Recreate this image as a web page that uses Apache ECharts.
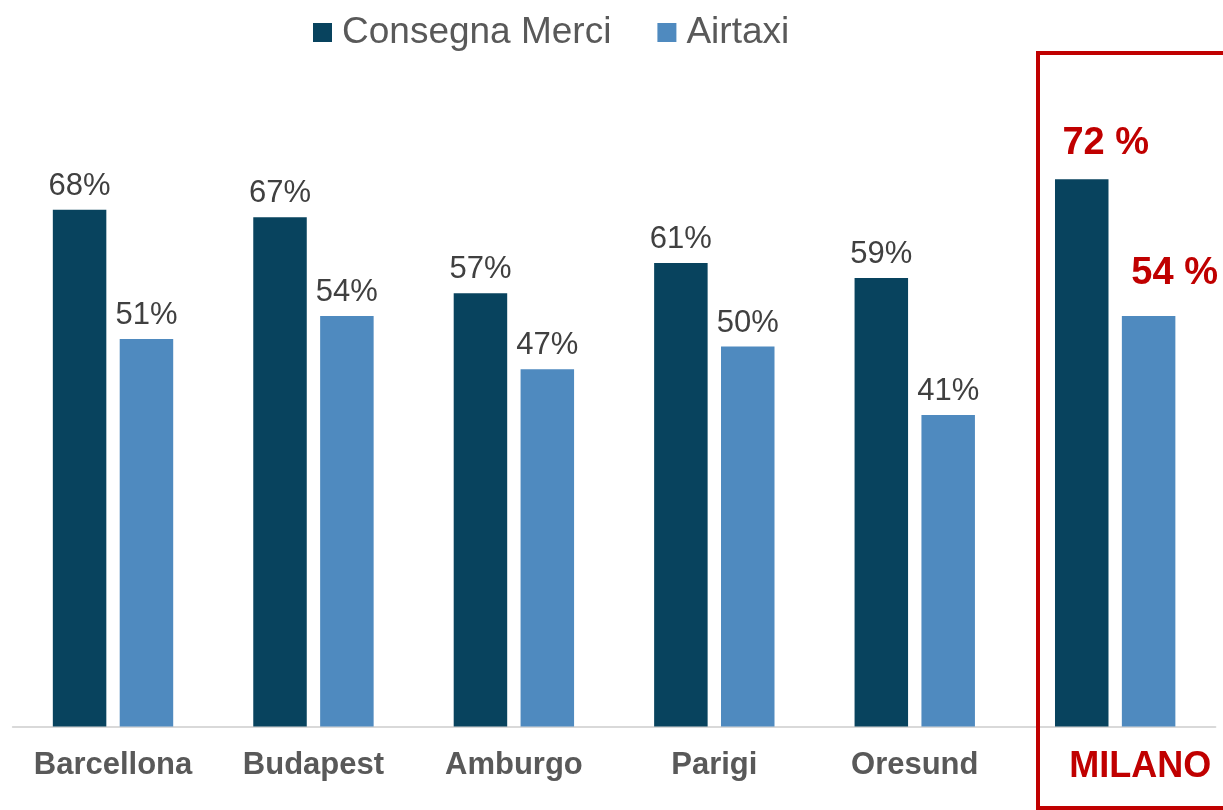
<!DOCTYPE html>
<html>
<head>
<meta charset="utf-8">
<script src="https://cdn.jsdelivr.net/npm/echarts@6/dist/echarts.min.js"></script>
<style>
html,body{margin:0;padding:0;background:#fff;}
#chart{width:1223px;height:810px;}
</style>
</head>
<body>
<div id="chart"></div>
<script>
const categories = ['Barcellona', 'Budapest', 'Amburgo', 'Parigi', 'Oresund', 'MILANO'];
const consegnaMerci = [68, 67, 57, 61, 59, 72];
const airtaxi = [51, 54, 47, 50, 41, 54];
const seriesNames = ['Consegna Merci', 'Airtaxi'];
const highlightCategory = 'MILANO';

const FONT = '"Liberation Sans", Arial, sans-serif';
const RED = '#c00000';

function buildData(values, offset) {
  return values.map((v, i) => {
    if (categories[i] === highlightCategory) {
      return {
        value: v,
        label: {
          formatter: '{c} %',
          color: RED,
          fontWeight: 'bold',
          fontSize: 38,
          offset: offset
        }
      };
    }
    return v;
  });
}

const chart = echarts.init(document.getElementById('chart'), null, {renderer: 'canvas'});
chart.setOption({
  backgroundColor: '#ffffff',
  animation: false,
  textStyle: {fontFamily: FONT},
  legend: {
    data: seriesNames,
    left: 308,
    top: 9,
    itemWidth: 19,
    itemHeight: 19,
    itemGap: 46,
    icon: 'rect',
    textStyle: {fontSize: 37, color: '#595959', fontFamily: FONT, padding: [0, 0, 0, 5]}
  },
  grid: {left: 12.8, right: 7.6, top: 118.5, bottom: 83.5, containLabel: false},
  xAxis: {
    type: 'category',
    data: categories.map(c => c === highlightCategory
      ? {value: c, textStyle: {color: RED, fontSize: 36, padding: [0, 0, 0, 50]}}
      : c),
    axisLine: {lineStyle: {color: '#d9d9d9', width: 2}},
    axisTick: {show: false},
    axisLabel: {fontSize: 31, fontWeight: 'bold', color: '#595959', margin: 23, fontFamily: FONT, interval: 0}
  },
  yAxis: {
    type: 'value',
    min: 0,
    max: 80,
    show: false,
    splitLine: {show: false}
  },
  series: [
    {
      name: seriesNames[0],
      type: 'bar',
      data: buildData(consegnaMerci, [24, -9]),
      barWidth: 53.5,
      barGap: '25%',
      itemStyle: {color: '#08435e'},
      label: {show: true, position: 'top', distance: 8, formatter: '{c}%', fontSize: 31, color: '#404040', fontFamily: FONT}
    },
    {
      name: seriesNames[1],
      type: 'bar',
      data: buildData(airtaxi, [26, -16]),
      barWidth: 53.5,
      itemStyle: {color: '#4f8abf'},
      label: {show: true, position: 'top', distance: 8, formatter: '{c}%', fontSize: 31, color: '#404040', fontFamily: FONT}
    }
  ],
  graphic: [
    {
      type: 'rect',
      shape: {x: 1038, y: 53, width: 220, height: 755},
      style: {fill: 'none', stroke: RED, lineWidth: 4},
      z: 100
    }
  ]
});
</script>
</body>
</html>
